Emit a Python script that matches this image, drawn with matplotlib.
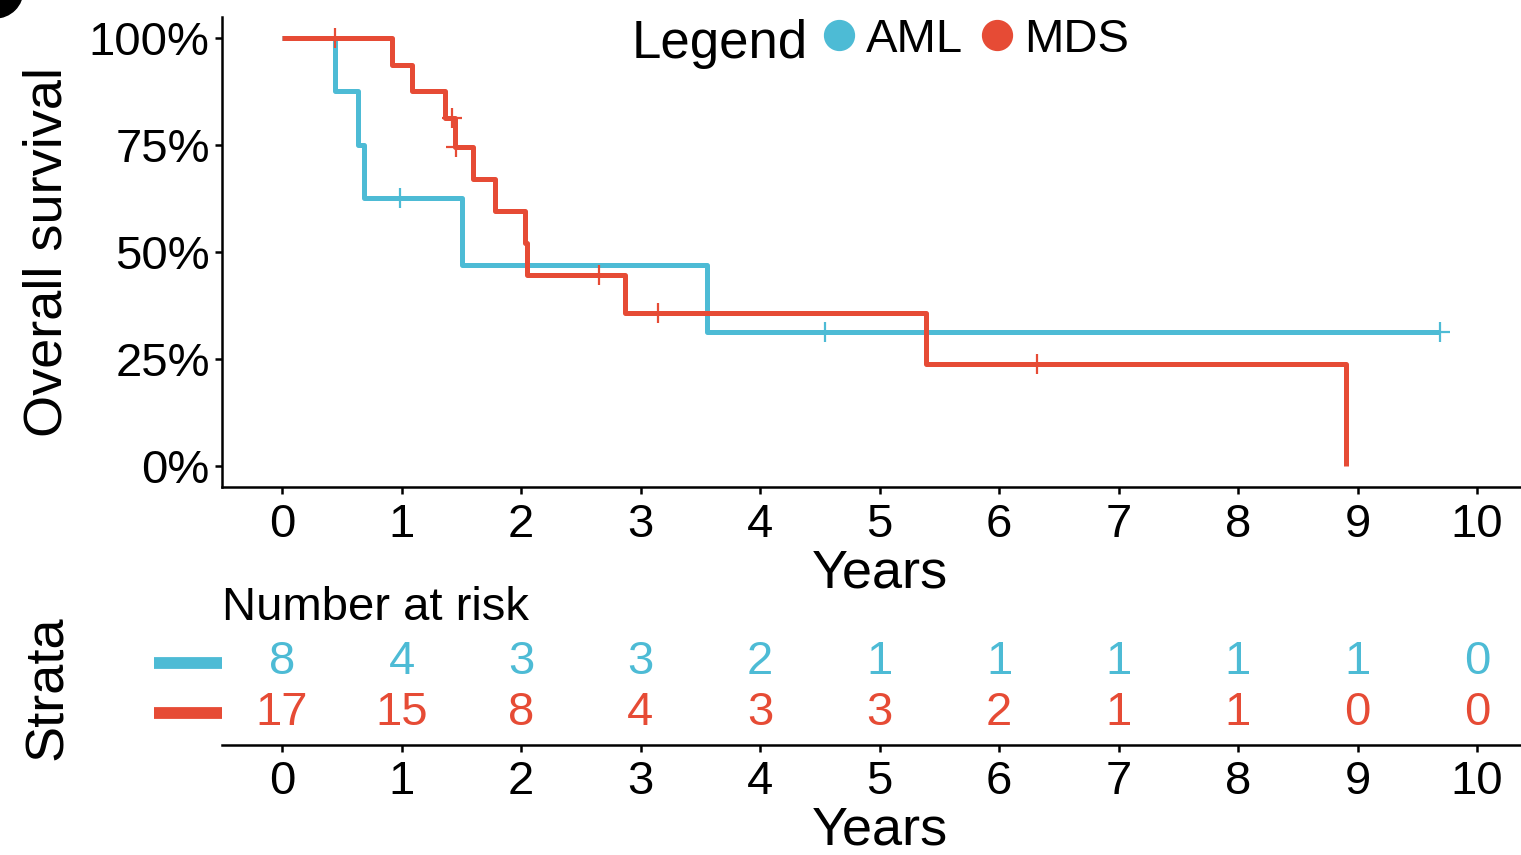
import matplotlib
matplotlib.use('Agg')
import matplotlib.pyplot as plt
from matplotlib.lines import Line2D
from matplotlib.patches import Ellipse
from matplotlib.ticker import PercentFormatter
from matplotlib.transforms import blended_transform_factory

plt.rcParams['font.family'] = ['Liberation Sans', 'DejaVu Sans']

# --- data ---
groups = ['AML', 'MDS']
colors = ['#4DBBD5', '#E64B35']

aml_time = [0, 0.44, 0.64, 0.69, 1.51, 3.56, 9.69]
aml_surv = [1.0, 0.875, 0.75, 0.625, 0.469, 0.3125, 0.3125]
aml_cens_time = [0.99, 4.54, 9.69]
aml_cens_surv = [0.625, 0.3125, 0.3125]

mds_time = [0, 0.92, 1.09, 1.36, 1.45, 1.60, 1.78, 2.03, 2.05, 2.87, 5.39, 8.90]
mds_surv = [1.0, 0.9375, 0.875, 0.8125, 0.745, 0.670, 0.596, 0.521, 0.447,
            0.3575, 0.2383, 0.0]
mds_cens_time = [0.44, 1.42, 1.46, 2.65, 3.15, 6.32]
mds_cens_surv = [1.0, 0.8125, 0.745, 0.447, 0.3575, 0.2383]

risk_times = list(range(0, 11))
aml_risk = [8, 4, 3, 3, 2, 1, 1, 1, 1, 1, 0]
mds_risk = [17, 15, 8, 4, 3, 3, 2, 1, 1, 0, 0]

W, H = 1521, 855
FS = 34       # tick labels, table numbers
FS_T = 39     # axis titles
fig = plt.figure(figsize=(W / 100, H / 100), dpi=100)


def px_rect(left, top, right, bottom):
    return [left / W, (H - bottom) / H, (right - left) / W, (bottom - top) / H]


ax = fig.add_axes(px_rect(222.25, 16.6, 1536.75, 487.4))
ax_t = fig.add_axes(px_rect(222.25, 630, 1536.75, 745))

# survival curves
curves = [(aml_time, aml_surv, aml_cens_time, aml_cens_surv),
          (mds_time, mds_surv, mds_cens_time, mds_cens_surv)]
for (t, s, ct, cs), col in zip(curves, colors):
    ax.step(t, s, where='post', color=col, lw=3.6,
            solid_joinstyle='round', solid_capstyle='butt')
    ax.plot(ct, cs, '+', color=col, ms=14, mew=1.6)

ax.set_xlim(-0.5, 10.5)
ax.set_ylim(-0.05, 1.05)
ax.set_xticks(risk_times)
ax.set_yticks([0, 0.25, 0.5, 0.75, 1.0])
ax.yaxis.set_major_formatter(PercentFormatter(xmax=1, decimals=0))
ax.set_xlabel('Years', fontsize=FS_T, labelpad=1)
ax.set_ylabel('Overall survival', fontsize=FS_T)
ax.yaxis.set_label_coords((73 - 222.25) / 1314.5, 0.5)

# risk table
for y, counts, col in zip([2, 1], [aml_risk, mds_risk], colors):
    for x, n in zip(risk_times, counts):
        ax_t.text(x, y, str(n), color=col, fontsize=FS,
                  ha='center', va='center')
ax_t.set_xlim(-0.5, 10.5)
ax_t.set_ylim(0.35, 2.65)
ax_t.set_xticks(risk_times)
ax_t.set_yticks([])
ax_t.set_xlabel('Years', fontsize=FS_T, labelpad=1)
ax_t.set_ylabel('Strata', fontsize=FS_T)
ax_t.yaxis.set_label_coords((73 - 222.25) / 1314.5, 0.5)
ax_t.set_title('Number at risk', fontsize=FS, loc='left', pad=-1)

tr = blended_transform_factory(fig.transFigure, ax_t.transData)
for y, col in zip([2, 1], colors):
    ax_t.plot([154 / W, 222 / W], [y, y], color=col, lw=8.5,
              solid_capstyle='butt', transform=tr, clip_on=False)

for a in (ax, ax_t):
    for side in ('top', 'right'):
        a.spines[side].set_visible(False)
    a.spines['left'].set_linewidth(1.8)
    a.spines['bottom'].set_linewidth(1.8)
    a.tick_params(labelsize=FS, length=5, width=1.8, pad=6)
ax.tick_params(axis='y', pad=4)
ax_t.spines['left'].set_visible(False)

# legend across the top
fig.text(632 / W, (H - 58) / H, 'Legend', fontsize=38, va='baseline')
handles = [Line2D([], [], marker='o', ls='none', color=c, ms=21.5)
           for c in colors]
fig.legend(handles, groups, loc='center left',
           bbox_to_anchor=(822 / W, (H - 40) / H), ncol=2, frameon=False,
           fontsize=FS, handlelength=0.7, handletextpad=0.22,
           columnspacing=0.38, borderpad=0, borderaxespad=0)

# clipped panel badge in the corner
fig.add_artist(Ellipse((-5 / W, (H + 10) / H), 56 / W, 56 / H,
                       transform=fig.transFigure, color='black'))

fig.savefig('out.png', dpi=100)
